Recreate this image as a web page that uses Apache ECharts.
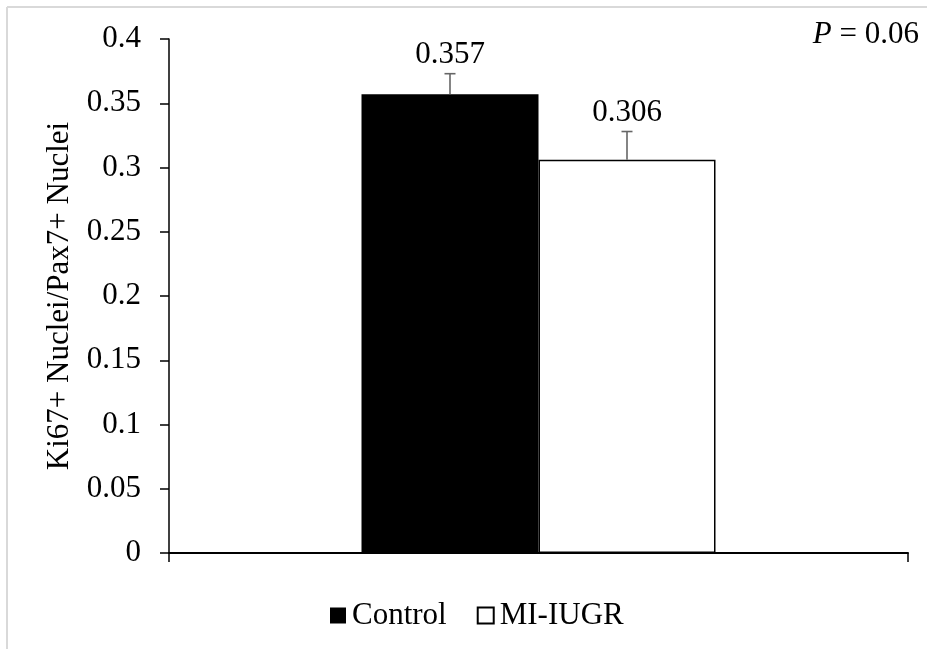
<!DOCTYPE html>
<html>
<head>
<meta charset="utf-8">
<script src="https://cdn.jsdelivr.net/npm/echarts@6/dist/echarts.min.js"></script>
<style>
  html, body { margin: 0; padding: 0; background: #fff; }
  #chart { width: 927px; height: 649px; }
</style>
</head>
<body>
<div id="chart"></div>
<script>
// Proliferating satellite cells: Ki67+ / Pax7+ nuclei ratio
const groups = ['Control', 'MI-IUGR'];
const means = [0.357, 0.306];
const sems = [0.016, 0.022];
const yTicks = [0, 0.05, 0.1, 0.15, 0.2, 0.25, 0.3, 0.35, 0.4];
const yTitle = 'Ki67+ Nuclei/Pax7+ Nuclei';
const pText = '0.06';

const FONT = "'Liberation Serif', 'Times New Roman', serif";
const FS = 31;
const BAR_W = 177;

const chart = echarts.init(document.getElementById('chart'), null, { renderer: 'canvas' });

const fills = ['#000000', '#ffffff'];

const barSeries = groups.map((g, i) => ({
  name: g,
  type: 'bar',
  data: [means[i]],
  barWidth: BAR_W,
  barGap: '0%',
  itemStyle: { color: fills[i], borderColor: '#000', borderWidth: i === 1 ? 1.5 : 0 },
  emphasis: { disabled: true },
  silent: true,
  z: 2
}));

// Upper error whiskers with the mean label above each cap
const errorSeries = {
  type: 'custom',
  silent: true,
  z: 5,
  data: groups.map((g, i) => [0, means[i], sems[i], i]),
  renderItem: function (params, api) {
    const idx = api.value(3);
    const mean = api.value(1);
    const err = api.value(2);
    const layout = api.barLayout({ barWidth: BAR_W, barGap: '0%', count: groups.length });
    const base = api.coord([0, mean]);
    const cx = base[0] + layout[idx].offsetCenter;
    const yTop = api.coord([0, mean + err])[1];
    const yMean = base[1];
    const half = 5.5;
    const style = { stroke: '#666666', lineWidth: 1.6 };
    return {
      type: 'group',
      children: [
        { type: 'line', shape: { x1: cx, y1: yMean, x2: cx, y2: yTop }, style: style },
        { type: 'line', shape: { x1: cx - half, y1: yTop, x2: cx + half, y2: yTop }, style: style },
        {
          type: 'text',
          style: {
            x: cx, y: yTop - 3,
            text: mean.toFixed(3),
            textAlign: 'center', textVerticalAlign: 'bottom',
            font: FS + 'px ' + FONT, fill: '#000'
          }
        }
      ]
    };
  }
};

chart.setOption({
  animation: false,
  backgroundColor: '#ffffff',
  textStyle: { fontFamily: FONT },
  grid: { left: 169, right: 19, top: 39, bottom: 96, containLabel: false },
  xAxis: {
    type: 'category',
    data: [''],
    boundaryGap: true,
    axisLine: { lineStyle: { color: '#000', width: 2 } },
    axisTick: { show: true, length: 9, lineStyle: { color: '#000', width: 1.5 } },
    axisLabel: { show: false },
    splitLine: { show: false }
  },
  yAxis: {
    type: 'value',
    min: yTicks[0],
    max: yTicks[yTicks.length - 1],
    interval: yTicks[1] - yTicks[0],
    name: yTitle,
    nameLocation: 'middle',
    nameGap: 92,
    nameTextStyle: { fontFamily: FONT, fontSize: FS, color: '#000' },
    axisLine: { show: true, lineStyle: { color: '#000', width: 1.5 } },
    axisTick: { show: true, length: 9, lineStyle: { color: '#000', width: 1.5 } },
    axisLabel: {
      margin: 28,
      fontFamily: FONT, fontSize: FS, color: '#000',
      formatter: function (v) {
        const t = yTicks.find(x => Math.abs(x - v) < 1e-9);
        return String(t !== undefined ? t : v);
      }
    },
    splitLine: { show: false }
  },
  legend: {
    data: groups,
    left: 325,
    top: 595,
    itemWidth: 16,
    itemHeight: 16,
    itemGap: 30,
    icon: 'rect',
    textStyle: { fontFamily: FONT, fontSize: FS, color: '#000', padding: [0, 0, 0, 1] },
    selectedMode: false
  },
  graphic: [
    { type: 'line', shape: { x1: 7, y1: 7, x2: 7, y2: 649 }, style: { stroke: '#d9d9d9', lineWidth: 2 }, silent: true },
    { type: 'line', shape: { x1: 7, y1: 7, x2: 927, y2: 7 }, style: { stroke: '#d9d9d9', lineWidth: 2 }, silent: true },
    {
      type: 'text',
      right: 8,
      top: 19,
      silent: true,
      style: {
        text: '{i|P} = ' + pText,
        font: FS + 'px ' + FONT,
        fill: '#000',
        rich: { i: { fontStyle: 'italic', fontFamily: FONT, fontSize: FS } }
      }
    }
  ],
  series: barSeries.concat([errorSeries])
});
</script>
</body>
</html>
